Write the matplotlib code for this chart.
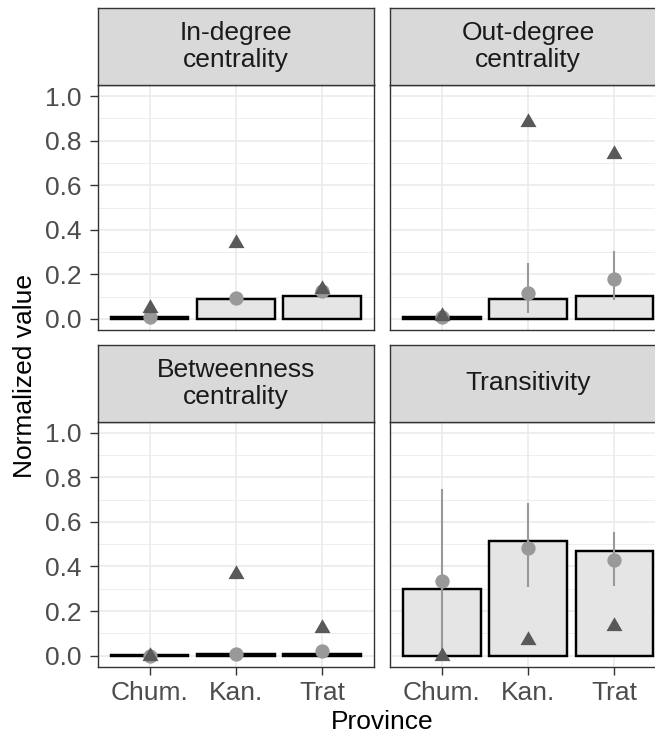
"""Faceted bar chart: network metrics by province (ggplot theme_bw look)."""
import matplotlib
matplotlib.use("Agg")
import matplotlib.pyplot as plt
import numpy as np

plt.rcParams["font.family"] = ["Liberation Sans", "DejaVu Sans"]

provinces = ["Chum.", "Kan.", "Trat"]
facet_titles = ["In-degree\ncentrality", "Out-degree\ncentrality",
                "Betweenness\ncentrality", "Transitivity"]

# bars: whole-network value per province
indeg_bar = [0.009, 0.088, 0.103]
outdeg_bar = [0.009, 0.088, 0.103]
betw_bar = [0.003, 0.009, 0.009]
trans_bar = [0.301, 0.513, 0.471]

# circles: mean with range
indeg_mean = [0.007, 0.093, 0.123]
indeg_lo = [0.0, 0.080, 0.110]
indeg_hi = [0.015, 0.105, 0.135]
outdeg_mean = [0.007, 0.116, 0.180]
outdeg_lo = [0.0, 0.025, 0.086]
outdeg_hi = [0.015, 0.251, 0.305]
betw_mean = [0.0, 0.008, 0.020]
betw_lo = [0.0, 0.0, 0.008]
betw_hi = [0.002, 0.018, 0.032]
trans_mean = [0.334, 0.481, 0.429]
trans_lo = [0.0, 0.308, 0.313]
trans_hi = [0.749, 0.684, 0.553]

# triangles: second reference value
indeg_tri = [0.047, 0.341, 0.134]
outdeg_tri = [0.014, 0.885, 0.738]
betw_tri = [0.0, 0.366, 0.122]
trans_tri = [0.0, 0.072, 0.132]

y_ticks = [0.0, 0.2, 0.4, 0.6, 0.8, 1.0]
y_labels = ["0.0", "0.2", "0.4", "0.6", "0.8", "1.0"]

facets = [
    (indeg_bar, indeg_mean, indeg_lo, indeg_hi, indeg_tri),
    (outdeg_bar, outdeg_mean, outdeg_lo, outdeg_hi, outdeg_tri),
    (betw_bar, betw_mean, betw_lo, betw_hi, betw_tri),
    (trans_bar, trans_mean, trans_lo, trans_hi, trans_tri),
]

W, H = 655, 735
FS = 19
TRI = [(0, 1), (-0.866, -0.5), (0.866, -0.5), (0, 1)]


def box(x0, x1, y0, y1):
    return [x0 / W, 1 - y1 / H, (x1 - x0) / W, (y1 - y0) / H]


col_x = [(97.7, 374.0), (390.0, 666.3)]
row_y = [(85.0, 330.0), (421.7, 666.7)]
strip_y = [(8.3, 85.0), (345.0, 421.7)]

fig = plt.figure(figsize=(W / 100, H / 100), dpi=100)
x = np.arange(1, len(provinces) + 1)

for i, (bars, mean, lo, hi, tri) in enumerate(facets):
    r, c = divmod(i, 2)
    ax = fig.add_axes(box(*col_x[c], *row_y[r]))
    ax.set_xlim(0.4, 3.6)
    ax.set_ylim(-0.05, 1.05)
    ax.set_yticks(y_ticks)
    ax.set_yticks(np.arange(0.1, 1.0, 0.2), minor=True)
    ax.set_xticks(x)
    ax.grid(which="major", color="#ebebeb", lw=1.2, zorder=0)
    ax.grid(which="minor", axis="y", color="#ebebeb", lw=0.6, zorder=0)
    ax.set_axisbelow(True)
    for s in ax.spines.values():
        s.set_color("#333333")
        s.set_linewidth(1.0)
    ax.tick_params(which="major", length=5.5, width=1.0, color="#333333",
                   labelsize=FS, labelcolor="#4d4d4d")
    ax.tick_params(axis="y", pad=6)
    ax.tick_params(axis="x", pad=4.6)
    ax.tick_params(which="minor", length=0)
    if c == 0:
        ax.set_yticklabels(y_labels)
    else:
        ax.tick_params(axis="y", length=0, labelleft=False)
    if r == 1:
        ax.set_xticklabels(provinces)
    else:
        ax.tick_params(axis="x", length=0, labelbottom=False)

    ax.bar(x, bars, width=0.9, color="#e5e5e5", edgecolor="black",
           linewidth=1.75, zorder=2)
    ax.vlines(x, lo, hi, color="#999999", lw=1.5, zorder=3)
    ax.plot(x, mean, "o", color="#999999", ms=10.3, mew=0, zorder=4)
    ax.plot(x, tri, linestyle="none", marker=TRI, color="#595959",
            ms=13.3, mew=0, zorder=5)

    sax = fig.add_axes(box(*col_x[c], *strip_y[r]))
    sax.set_facecolor("#d9d9d9")
    sax.set_xticks([])
    sax.set_yticks([])
    for s in sax.spines.values():
        s.set_color("#333333")
        s.set_linewidth(1.0)
    sax.text(0.5, 0.5, facet_titles[i], transform=sax.transAxes,
             ha="center", va="center", fontsize=FS, color="#1a1a1a",
             linespacing=1.15)

fig.text(25.5 / W, 1 - 376 / H, "Normalized value", rotation=90,
         ha="center", va="center", fontsize=FS, color="black")
fig.text(382 / W, 1 - 729 / H, "Province", ha="center", va="baseline",
         fontsize=FS, color="black")

fig.savefig("out.png", dpi=100)
